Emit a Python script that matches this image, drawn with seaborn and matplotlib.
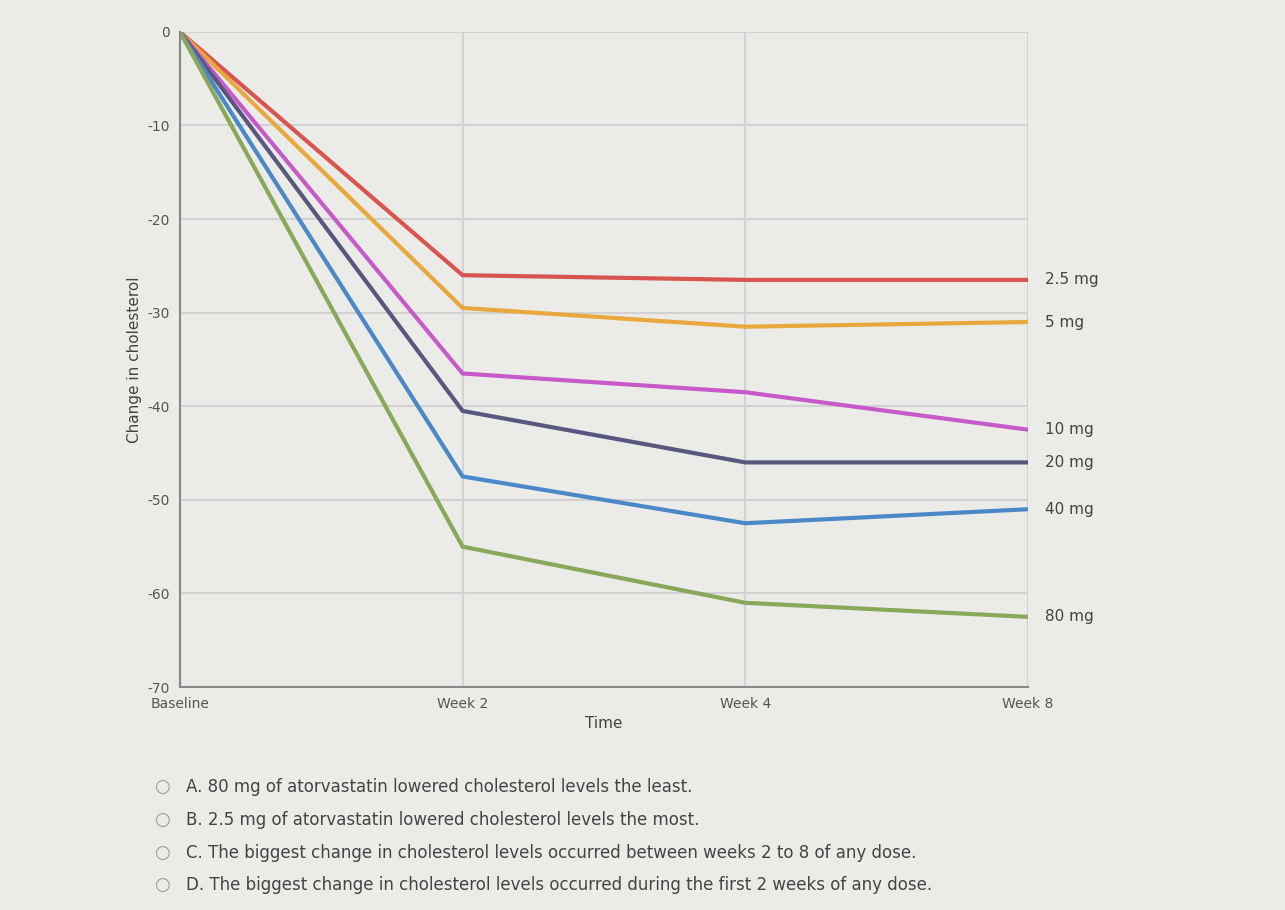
import matplotlib
matplotlib.use("Agg")
import matplotlib.pyplot as plt
import seaborn as sns
import pandas as pd

# ---------------------------------------------------------------------------
# Data
# ---------------------------------------------------------------------------
time_points = ["Baseline", "Week 2", "Week 4", "Week 8"]
doses = ["2.5 mg", "5 mg", "10 mg", "20 mg", "40 mg", "80 mg"]
change_25 = [0, -26.0, -26.5, -26.5]
change_5 = [0, -29.5, -31.5, -31.0]
change_10 = [0, -36.5, -38.5, -42.5]
change_20 = [0, -40.5, -46.0, -46.0]
change_40 = [0, -47.5, -52.5, -51.0]
change_80 = [0, -55.0, -61.0, -62.5]
colors = ["#d9544f", "#e8a83c", "#c65ac8", "#58587e", "#4a88c8", "#8aa85a"]
options = [
    "A. 80 mg of atorvastatin lowered cholesterol levels the least.",
    "B. 2.5 mg of atorvastatin lowered cholesterol levels the most.",
    "C. The biggest change in cholesterol levels occurred between weeks 2 to 8 of any dose.",
    "D. The biggest change in cholesterol levels occurred during the first 2 weeks of any dose.",
]

series = [change_25, change_5, change_10, change_20, change_40, change_80]
rows = []
for dose, vals in zip(doses, series):
    for i, v in enumerate(vals):
        rows.append({"x": i, "Time": time_points[i], "Dose": dose, "Change": v})
df = pd.DataFrame(rows)

sns.set_style("whitegrid")
plt.rcParams["font.family"] = ["DejaVu Sans"]

fig = plt.figure(figsize=(12.85, 9.10), dpi=100, facecolor="#ebebe8")
ax = fig.add_axes([0.14, 0.245, 0.66, 0.72])
ax.set_facecolor("#ebebe8")

sns.lineplot(data=df, x="x", y="Change", hue="Dose", palette=colors,
             linewidth=3, ax=ax, legend=False)

for dose, vals, c in zip(doses, series, colors):
    ax.text(3.06, vals[-1], dose, va="center", fontsize=11, color="#444444")

ax.set_xlim(0, 3)
ax.set_ylim(-70, 0)
ax.set_xticks(range(4))
ax.set_xticklabels(time_points, fontsize=10, color="#555555")
ax.set_yticks(range(-70, 1, 10))
ax.set_yticklabels([str(v) for v in range(-70, 1, 10)], fontsize=10, color="#555555")
ax.set_xlabel("Time", fontsize=11, color="#444444")
ax.set_ylabel("Change in cholesterol", fontsize=11, color="#444444")
ax.grid(color="#d2d2d2", linewidth=1.5)
for side in ["top", "right"]:
    ax.spines[side].set_visible(False)
for side in ["left", "bottom"]:
    ax.spines[side].set_color("#888888")
    ax.spines[side].set_linewidth(1.5)

for i, opt in enumerate(options):
    y = 0.135 - i * 0.036
    fig.text(0.12, y, "\u25cb", fontsize=13, color="#999999", va="center")
    fig.text(0.145, y, opt, fontsize=12, color="#444444", va="center")

fig.savefig("out.png", dpi=100, facecolor=fig.get_facecolor())
